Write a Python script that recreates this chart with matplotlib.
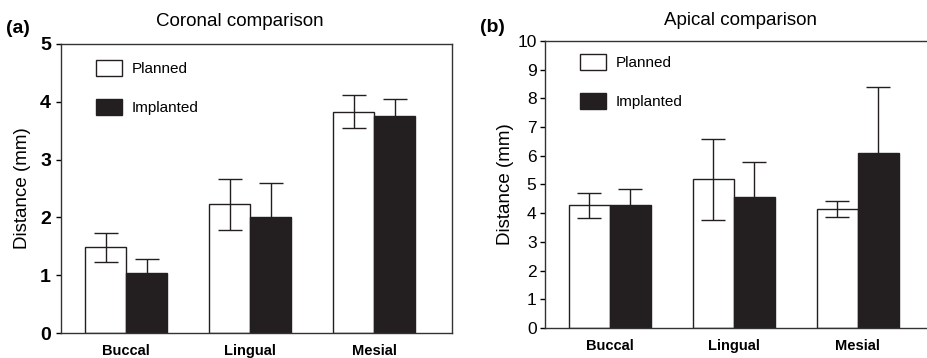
import numpy as np
import matplotlib
matplotlib.use('Agg')
import matplotlib.pyplot as plt

plt.rcParams['font.family'] = ['Liberation Sans', 'DejaVu Sans']

categories = ['Buccal', 'Lingual', 'Mesial']
series = ['Planned', 'Implanted']

# coronal comparison (mm)
coronal_planned = [1.48, 2.23, 3.83]
coronal_planned_err = [0.25, 0.44, 0.29]
coronal_implanted = [1.04, 2.01, 3.75]
coronal_implanted_err = [0.24, 0.59, 0.29]

# apical comparison (mm)
apical_planned = [4.28, 5.19, 4.14]
apical_planned_err = [0.43, 1.41, 0.28]
apical_implanted = [4.28, 4.56, 6.08]
apical_implanted_err = [0.56, 1.24, 2.32]

dark = '#231f20'
w = 0.33


def draw_panel(ax, planned, p_err, implanted, i_err, ymax, title, title_xy, tag, tag_xy,
               ylab_pad, leg_top, tick_size, tick_weight, tick_pad):
    x = np.arange(len(categories))
    ax.bar(x - w / 2, planned, w, color='white', edgecolor=dark, linewidth=1, label=series[0], zorder=2)
    ax.bar(x + w / 2, implanted, w, color=dark, edgecolor=dark, linewidth=1, label=series[1], zorder=2)
    ax.errorbar(x - w / 2, planned, yerr=p_err, fmt='none', ecolor=dark, elinewidth=1, capsize=8.5, capthick=1, zorder=3)
    ax.errorbar(x + w / 2, implanted, yerr=i_err, fmt='none', ecolor=dark, elinewidth=1, capsize=8.5, capthick=1, zorder=3)

    ax.set_xlim(-0.524, 2.625)
    ax.set_ylim(0, ymax)
    ax.set_yticks(np.arange(0, ymax + 1, 1))
    ax.set_xticks(x)
    ax.set_xticklabels(categories, fontsize=10.5, fontweight='bold')
    ax.tick_params(axis='x', length=0, pad=8)
    ax.tick_params(axis='y', length=3.6, width=1, pad=tick_pad, labelsize=tick_size, direction='out')
    for lab in ax.get_yticklabels():
        lab.set_fontweight(tick_weight)
    for s in ax.spines.values():
        s.set_linewidth(1)
        s.set_color('#333333')
    ax.set_ylabel('Distance (mm)', fontsize=13.5, labelpad=ylab_pad)

    ax.legend(loc='upper left', bbox_to_anchor=(0.09, leg_top), frameon=False, fontsize=11,
              handlelength=1.7, handleheight=1.25, labelspacing=1.5, handletextpad=0.65,
              borderpad=0, borderaxespad=0)
    ax.text(title_xy[0], title_xy[1], title, transform=ax.transAxes, ha='center', va='center', fontsize=13.5)
    ax.text(tag_xy[0], tag_xy[1], tag, transform=ax.transAxes,
            ha='left', va='center', fontsize=14, fontweight='bold')


fig = plt.figure(figsize=(9.28, 3.58), dpi=100)
ax1 = fig.add_axes([0.0657, 0.0698, 0.4213, 0.8073])
ax2 = fig.add_axes([0.5873, 0.0838, 0.4203, 0.8017])

draw_panel(ax1, coronal_planned, coronal_planned_err, coronal_implanted, coronal_implanted_err,
           5, 'Coronal comparison', (0.458, 1.078), '(a)', (-0.14, 1.055), 6.5, 0.945, 14, 'bold', 3.6)
draw_panel(ax2, apical_planned, apical_planned_err, apical_implanted, apical_implanted_err,
           10, 'Apical comparison', (0.5, 1.072), '(b)', (-0.167, 1.048), 2.5, 0.955, 12.5, 'normal', 2.5)

fig.savefig('out.png', dpi=100)
